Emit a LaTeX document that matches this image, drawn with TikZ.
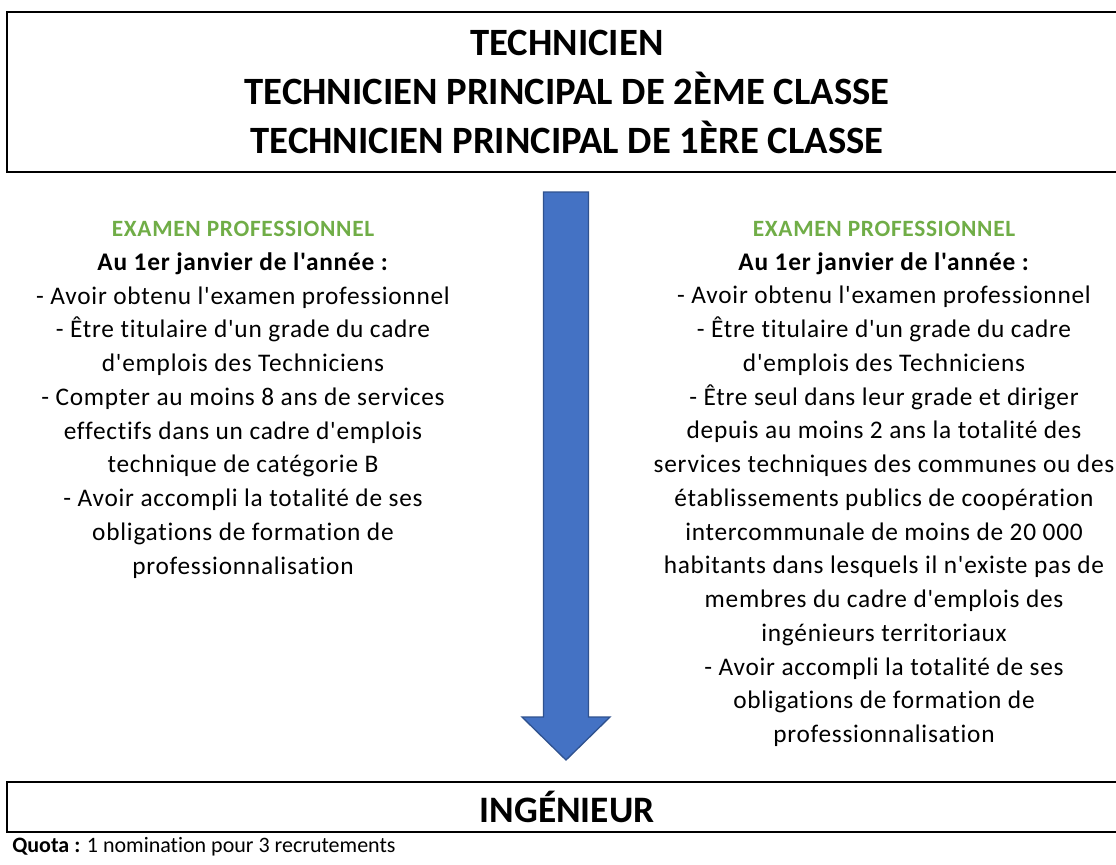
\documentclass[tikz,border=0pt]{standalone}
\usepackage{fontspec}
\setmainfont{Carlito}[Ligatures={TeXOff,NoCommon}]
\usepackage{xcolor}
\usepackage{tikz}
\usetikzlibrary{positioning, calc}
\definecolor{examgreen}{RGB}{112, 173, 71}
\definecolor{arrowblue}{RGB}{68, 114, 196}
\definecolor{arrowedge}{RGB}{47, 82, 143}
\tikzstyle{gradebox} = [
    rectangle,
    draw=black,
    line width=1.5pt,
    inner sep=0pt,
    minimum width=840pt,
    align=center,
    font=\fontsize{29}{36.75}\selectfont\bfseries
]
\tikzstyle{condition} = [
    inner sep=0pt,
    align=center,
    font=\fontsize{19}{25.3}\selectfont\addfontfeatures{LetterSpace=3}
]
\tikzstyle{bigarrow} = [
    fill=arrowblue,
    draw=arrowedge,
    line width=1pt,
    line join=miter
]
\newcommand{\examhead}{{\fontsize{17.5}{25.3}\selectfont\bfseries\color{examgreen}EXAMEN PROFESSIONNEL}}

\begin{document}
\begin{tikzpicture}[x=0.75pt, y=-0.75pt]
        \useasboundingbox (0,0) rectangle (1116,864);

        \node[gradebox, anchor=north west, minimum height=120pt] (tech) at (6,11)
            {TECHNICIEN\\TECHNICIEN PRINCIPAL DE 2ÈME CLASSE\\TECHNICIEN PRINCIPAL DE 1ÈRE CLASSE};
        \node[gradebox, anchor=north west, minimum height=37.5pt, font=\fontsize{28}{34}\selectfont\bfseries] (ing) at (6,781) {INGÉNIEUR};

        % base anchor = last line of the text
        \node[condition, anchor=base] (left) at (243,574)
            {\examhead\\
             \textbf{Au 1er janvier de l'année :}\\
             - Avoir obtenu l'examen professionnel\\
             - Être titulaire d'un grade du cadre\\
             d'emplois des Techniciens\\
             - Compter au moins 8 ans de services\\
             effectifs dans un cadre d'emplois\\
             technique de catégorie B\\
             - Avoir accompli la totalité de ses\\
             obligations de formation de\\
             professionnalisation};
        \node[condition, anchor=base] (right) at (884,742.5)
            {\examhead\\
             \textbf{Au 1er janvier de l'année :}\\
             - Avoir obtenu l'examen professionnel\\
             - Être titulaire d'un grade du cadre\\
             d'emplois des Techniciens\\
             - Être seul dans leur grade et diriger\\
             depuis au moins 2 ans la totalité des\\
             services techniques des communes ou des\\
             établissements publics de coopération\\
             intercommunale de moins de 20 000\\
             habitants dans lesquels il n'existe pas de\\
             membres du cadre d'emplois des\\
             ingénieurs territoriaux\\
             - Avoir accompli la totalité de ses\\
             obligations de formation de\\
             professionnalisation};

        \node[anchor=base west, inner sep=0pt, font=\fontsize{16.5}{20}\selectfont] (quota) at (12,852)
            {\textbf{Quota :} 1 nomination pour 3 recrutements};

        % block arrow between the two grades
        \coordinate (arrtop) at (566,192);
        \coordinate (arrtip) at (566,760);
        \draw[bigarrow] ($(arrtop)+(-22.5,0)$) -- ($(arrtop)+(22.5,0)$) -- ($(arrtip)+(22.5,-43)$)
            -- ($(arrtip)+(44,-43)$) -- (arrtip) -- ($(arrtip)+(-44,-43)$) -- ($(arrtip)+(-22.5,-43)$) -- cycle;
    \end{tikzpicture}
\end{document}
